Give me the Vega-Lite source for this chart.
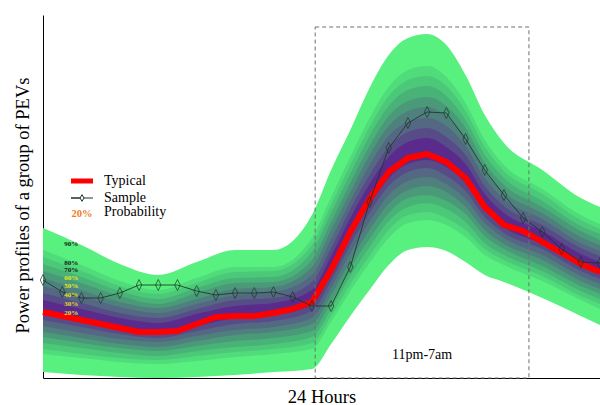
{
"$schema": "https://vega.github.io/schema/vega-lite/v6.json",
"width": 557, "height": 363,
"autosize": {"type": "none"},
"padding": {"left": 43, "top": 15, "right": 0, "bottom": 27},
"background": "white",
"config": {"view": {"stroke": null}, "font": "Liberation Serif"},
"datasets": {
"bands": [
{"b":9,"i":0,"lo":6,"hi":150},{"b":9,"i":2,"lo":3,"hi":133},{"b":9,"i":4,"lo":1,"hi":114},{"b":9,"i":6,"lo":0,"hi":103},{"b":9,"i":8,"lo":1,"hi":116},{"b":9,"i":10,"lo":3,"hi":128},{"b":9,"i":12,"lo":6,"hi":128},{"b":9,"i":14,"lo":9,"hi":163},{"b":9,"i":15,"lo":34,"hi":208},{"b":9,"i":16,"lo":62,"hi":248},{"b":9,"i":17,"lo":88,"hi":290},{"b":9,"i":18,"lo":113,"hi":323},{"b":9,"i":19,"lo":128,"hi":340},{"b":9,"i":20,"lo":131,"hi":344},{"b":9,"i":21,"lo":127,"hi":333},{"b":9,"i":22,"lo":116,"hi":303},{"b":9,"i":23,"lo":103,"hi":263},{"b":9,"i":24,"lo":96,"hi":235},{"b":9,"i":26,"lo":80,"hi":208},{"b":9,"i":28,"lo":62,"hi":180},{"b":9,"i":29,"lo":53,"hi":171},
{"b":8,"i":0,"lo":24,"hi":128},{"b":8,"i":2,"lo":20,"hi":113},{"b":8,"i":4,"lo":16,"hi":97},{"b":8,"i":6,"lo":14,"hi":88},{"b":8,"i":8,"lo":17,"hi":100},{"b":8,"i":10,"lo":21,"hi":111},{"b":8,"i":12,"lo":24,"hi":111},{"b":8,"i":14,"lo":29,"hi":140},{"b":8,"i":15,"lo":56,"hi":181},{"b":8,"i":16,"lo":87,"hi":221},{"b":8,"i":17,"lo":115,"hi":260},{"b":8,"i":18,"lo":140,"hi":291},{"b":8,"i":19,"lo":155,"hi":308},{"b":8,"i":20,"lo":158,"hi":312},{"b":8,"i":21,"lo":153,"hi":301},{"b":8,"i":22,"lo":141,"hi":275},{"b":8,"i":23,"lo":123,"hi":238},{"b":8,"i":24,"lo":113,"hi":213},{"b":8,"i":26,"lo":97,"hi":189},{"b":8,"i":28,"lo":78,"hi":163},{"b":8,"i":29,"lo":69,"hi":154},
{"b":7,"i":0,"lo":29,"hi":121},{"b":7,"i":2,"lo":24,"hi":107},{"b":7,"i":4,"lo":20,"hi":92},{"b":7,"i":6,"lo":18,"hi":84},{"b":7,"i":8,"lo":22,"hi":95},{"b":7,"i":10,"lo":26,"hi":106},{"b":7,"i":12,"lo":29,"hi":107},{"b":7,"i":14,"lo":35,"hi":133},{"b":7,"i":15,"lo":62,"hi":173},{"b":7,"i":16,"lo":94,"hi":213},{"b":7,"i":17,"lo":122,"hi":251},{"b":7,"i":18,"lo":148,"hi":282},{"b":7,"i":19,"lo":163,"hi":298},{"b":7,"i":20,"lo":166,"hi":302},{"b":7,"i":21,"lo":160,"hi":292},{"b":7,"i":22,"lo":148,"hi":267},{"b":7,"i":23,"lo":129,"hi":231},{"b":7,"i":24,"lo":118,"hi":207},{"b":7,"i":26,"lo":102,"hi":184},{"b":7,"i":28,"lo":82,"hi":158},{"b":7,"i":29,"lo":74,"hi":149},
{"b":6,"i":0,"lo":35,"hi":114},{"b":6,"i":2,"lo":30,"hi":101},{"b":6,"i":4,"lo":25,"hi":87},{"b":6,"i":6,"lo":22,"hi":79},{"b":6,"i":8,"lo":27,"hi":90},{"b":6,"i":10,"lo":31,"hi":100},{"b":6,"i":12,"lo":34,"hi":101},{"b":6,"i":14,"lo":41,"hi":126},{"b":6,"i":15,"lo":69,"hi":165},{"b":6,"i":16,"lo":102,"hi":204},{"b":6,"i":17,"lo":131,"hi":242},{"b":6,"i":18,"lo":157,"hi":272},{"b":6,"i":19,"lo":171,"hi":288},{"b":6,"i":20,"lo":175,"hi":292},{"b":6,"i":21,"lo":169,"hi":282},{"b":6,"i":22,"lo":156,"hi":258},{"b":6,"i":23,"lo":135,"hi":223},{"b":6,"i":24,"lo":123,"hi":200},{"b":6,"i":26,"lo":107,"hi":177},{"b":6,"i":28,"lo":87,"hi":152},{"b":6,"i":29,"lo":79,"hi":144},
{"b":5,"i":0,"lo":41,"hi":107},{"b":5,"i":2,"lo":35,"hi":95},{"b":5,"i":4,"lo":30,"hi":82},{"b":5,"i":6,"lo":27,"hi":74},{"b":5,"i":8,"lo":32,"hi":85},{"b":5,"i":10,"lo":37,"hi":95},{"b":5,"i":12,"lo":40,"hi":96},{"b":5,"i":14,"lo":47,"hi":118},{"b":5,"i":15,"lo":76,"hi":156},{"b":5,"i":16,"lo":110,"hi":195},{"b":5,"i":17,"lo":139,"hi":232},{"b":5,"i":18,"lo":165,"hi":262},{"b":5,"i":19,"lo":180,"hi":277},{"b":5,"i":20,"lo":183,"hi":281},{"b":5,"i":21,"lo":177,"hi":272},{"b":5,"i":22,"lo":164,"hi":250},{"b":5,"i":23,"lo":142,"hi":215},{"b":5,"i":24,"lo":129,"hi":193},{"b":5,"i":26,"lo":112,"hi":171},{"b":5,"i":28,"lo":92,"hi":147},{"b":5,"i":29,"lo":84,"hi":138},
{"b":4,"i":0,"lo":46,"hi":100},{"b":4,"i":2,"lo":40,"hi":88},{"b":4,"i":4,"lo":34,"hi":76},{"b":4,"i":6,"lo":31,"hi":70},{"b":4,"i":8,"lo":37,"hi":79},{"b":4,"i":10,"lo":43,"hi":89},{"b":4,"i":12,"lo":46,"hi":91},{"b":4,"i":14,"lo":54,"hi":111},{"b":4,"i":15,"lo":83,"hi":148},{"b":4,"i":16,"lo":117,"hi":186},{"b":4,"i":17,"lo":148,"hi":223},{"b":4,"i":18,"lo":174,"hi":252},{"b":4,"i":19,"lo":188,"hi":267},{"b":4,"i":20,"lo":192,"hi":271},{"b":4,"i":21,"lo":186,"hi":262},{"b":4,"i":22,"lo":171,"hi":241},{"b":4,"i":23,"lo":148,"hi":208},{"b":4,"i":24,"lo":134,"hi":186},{"b":4,"i":26,"lo":118,"hi":165},{"b":4,"i":28,"lo":97,"hi":141},{"b":4,"i":29,"lo":89,"hi":133},
{"b":3,"i":0,"lo":52,"hi":92},{"b":3,"i":2,"lo":45,"hi":82},{"b":3,"i":4,"lo":39,"hi":71},{"b":3,"i":6,"lo":36,"hi":65},{"b":3,"i":8,"lo":42,"hi":74},{"b":3,"i":10,"lo":48,"hi":83},{"b":3,"i":12,"lo":51,"hi":86},{"b":3,"i":14,"lo":60,"hi":103},{"b":3,"i":15,"lo":90,"hi":139},{"b":3,"i":16,"lo":125,"hi":177},{"b":3,"i":17,"lo":156,"hi":213},{"b":3,"i":18,"lo":183,"hi":242},{"b":3,"i":19,"lo":197,"hi":256},{"b":3,"i":20,"lo":201,"hi":260},{"b":3,"i":21,"lo":194,"hi":252},{"b":3,"i":22,"lo":179,"hi":232},{"b":3,"i":23,"lo":155,"hi":200},{"b":3,"i":24,"lo":140,"hi":179},{"b":3,"i":26,"lo":123,"hi":159},{"b":3,"i":28,"lo":102,"hi":135},{"b":3,"i":29,"lo":94,"hi":127},
{"b":2,"i":0,"lo":58,"hi":85},{"b":2,"i":2,"lo":51,"hi":75},{"b":2,"i":4,"lo":44,"hi":65},{"b":2,"i":6,"lo":40,"hi":60},{"b":2,"i":8,"lo":47,"hi":69},{"b":2,"i":10,"lo":54,"hi":78},{"b":2,"i":12,"lo":57,"hi":80},{"b":2,"i":14,"lo":67,"hi":96},{"b":2,"i":15,"lo":97,"hi":130},{"b":2,"i":16,"lo":133,"hi":169},{"b":2,"i":17,"lo":165,"hi":203},{"b":2,"i":18,"lo":192,"hi":231},{"b":2,"i":19,"lo":206,"hi":246},{"b":2,"i":20,"lo":210,"hi":250},{"b":2,"i":21,"lo":202,"hi":241},{"b":2,"i":22,"lo":187,"hi":223},{"b":2,"i":23,"lo":161,"hi":192},{"b":2,"i":24,"lo":145,"hi":172},{"b":2,"i":26,"lo":129,"hi":153},{"b":2,"i":28,"lo":107,"hi":130},{"b":2,"i":29,"lo":99,"hi":122},
{"b":1,"i":0,"lo":64,"hi":78},{"b":1,"i":2,"lo":56,"hi":69},{"b":1,"i":4,"lo":49,"hi":60},{"b":1,"i":6,"lo":45,"hi":55},{"b":1,"i":8,"lo":52,"hi":64},{"b":1,"i":10,"lo":60,"hi":72},{"b":1,"i":12,"lo":63,"hi":75},{"b":1,"i":14,"lo":73,"hi":88},{"b":1,"i":15,"lo":104,"hi":122},{"b":1,"i":16,"lo":141,"hi":160},{"b":1,"i":17,"lo":173,"hi":194},{"b":1,"i":18,"lo":200,"hi":221},{"b":1,"i":19,"lo":214,"hi":236},{"b":1,"i":20,"lo":218,"hi":240},{"b":1,"i":21,"lo":211,"hi":231},{"b":1,"i":22,"lo":195,"hi":214},{"b":1,"i":23,"lo":168,"hi":184},{"b":1,"i":24,"lo":151,"hi":165},{"b":1,"i":26,"lo":134,"hi":147},{"b":1,"i":28,"lo":112,"hi":124},{"b":1,"i":29,"lo":104,"hi":116}
],
"typical": [
{"i":0,"v":66},{"i":1,"v":62},{"i":2,"v":58},{"i":3,"v":54},{"i":4,"v":50},{"i":5,"v":46},{"i":6,"v":46},{"i":7,"v":47},{"i":8,"v":54},{"i":9,"v":61},{"i":10,"v":62},{"i":11,"v":62},{"i":12,"v":65},{"i":13,"v":69},{"i":14,"v":76},{"i":15,"v":108},{"i":16,"v":146},{"i":17,"v":179},{"i":18,"v":206},{"i":19,"v":220},{"i":20,"v":224},{"i":21,"v":216},{"i":22,"v":200},{"i":23,"v":171},{"i":24,"v":153},{"i":25,"v":147},{"i":26,"v":136},{"i":27,"v":125},{"i":28,"v":114},{"i":29,"v":106}
],
"sample": [
{"i":0,"v":98},{"i":1,"v":86},{"i":2,"v":80},{"i":3,"v":80},{"i":4,"v":85},{"i":5,"v":93},{"i":6,"v":93},{"i":7,"v":93},{"i":8,"v":87},{"i":9,"v":83},{"i":10,"v":85},{"i":11,"v":85},{"i":12,"v":86},{"i":13,"v":81},{"i":14,"v":72},{"i":15,"v":72},{"i":16,"v":111},{"i":17,"v":176},{"i":18,"v":230},{"i":19,"v":255},{"i":20,"v":266},{"i":21,"v":265},{"i":22,"v":239},{"i":23,"v":208},{"i":24,"v":183},{"i":25,"v":160},{"i":26,"v":146},{"i":27,"v":129},{"i":28,"v":116},{"i":29,"v":115}
],
"pct": [
{"lab":"90%","i":1.1,"v":134},{"lab":"80%","i":1.1,"v":115},{"lab":"70%","i":1.1,"v":108},{"lab":"60%","i":1.1,"v":100},{"lab":"50%","i":1.1,"v":92},{"lab":"40%","i":1.1,"v":83},{"lab":"30%","i":1.1,"v":74},{"lab":"20%","i":1.1,"v":65}
]
},
"layer": [
{
"data": {"name": "bands"},
"mark": {"type": "area", "interpolate": "monotone"},
"encoding": {
"x": {"field": "i", "type": "quantitative", "scale": {"domain": [0, 29], "nice": false, "zero": false},
"axis": {"title": "24 Hours", "labels": false, "ticks": false, "grid": false, "domainColor": "black", "domainWidth": 1, "titleFont": "Liberation Serif", "titleFontSize": 18.5, "titleFontWeight": "normal", "titleColor": "black", "titlePadding": 9}},
"y": {"field": "lo", "type": "quantitative", "scale": {"domain": [0, 363], "nice": false, "zero": false},
"axis": {"title": "Power profiles of a group of PEVs", "labels": false, "ticks": false, "grid": false, "domainColor": "black", "domainWidth": 1, "titleFont": "Liberation Serif", "titleFontSize": 18.5, "titleFontWeight": "normal", "titleColor": "black", "titlePadding": 11, "titleY": 190}},
"y2": {"field": "hi"},
"fill": {"field": "b", "type": "nominal", "scale": {"domain": [9, 8, 7, 6, 5, 4, 3, 2, 1], "range": ["#58f07f", "#50dc7b", "#4bc878", "#48b277", "#4a9a7a", "#4f807e", "#546883", "#584c88", "#5a2a8c"]}, "legend": null}
}
},
{
"data": {"name": "typical"},
"mark": {"type": "line", "strokeWidth": 6, "strokeJoin": "round"},
"encoding": {
"x": {"field": "i", "type": "quantitative"},
"y": {"field": "v", "type": "quantitative"},
"stroke": {"datum": "Typical", "type": "nominal",
"scale": {"domain": ["Typical", "Sample", "Probability"], "range": ["#ff0000", "#1d3524", "#000000"]},
"legend": {"orient": "none", "legendX": 32, "legendY": 159, "title": null, "symbolSize": 121, "labelFont": "Liberation Serif", "labelFontSize": 14, "labelColor": "black", "labelOffset": 15, "rowPadding": 0, "padding": 0, "symbolType": "M-2,0H2",
"encode": {"symbols": {"update": {
"shape": {"signal": "datum.value === 'Sample' ? 'M-2,0H-0.35L0,-0.6L0.35,0L0,0.6L-0.35,0ZM0.35,0H2' : 'M-2,0H2'"},
"strokeWidth": {"signal": "datum.value === 'Typical' ? 5 : 1"},
"opacity": {"signal": "datum.value === 'Probability' ? 0 : 1"},
"fill": {"value": "transparent"}}}}}
}
}
},
{
"data": {"name": "sample"},
"mark": {"type": "line", "strokeWidth": 1, "opacity": 0.85},
"encoding": {
"x": {"field": "i", "type": "quantitative"},
"y": {"field": "v", "type": "quantitative"},
"stroke": {"datum": "Sample", "type": "nominal"}
}
},
{
"data": {"name": "sample"},
"mark": {"type": "point", "shape": "M0,-1L0.5,0L0,1L-0.5,0Z", "size": 121, "filled": false, "strokeWidth": 0.8, "opacity": 0.85},
"encoding": {
"x": {"field": "i", "type": "quantitative"},
"y": {"field": "v", "type": "quantitative"},
"stroke": {"datum": "Sample", "type": "nominal"}
}
},
{
"data": {"name": "pct"},
"mark": {"type": "text", "align": "left", "baseline": "middle", "fontSize": 7, "fontWeight": "bold", "font": "Liberation Serif"},
"encoding": {
"x": {"field": "i", "type": "quantitative"},
"y": {"field": "v", "type": "quantitative"},
"text": {"field": "lab"},
"color": {"field": "lab", "type": "nominal", "scale": {"domain": ["90%", "80%", "70%", "60%", "50%", "40%", "30%", "20%"], "range": ["#1a1a1a", "#1a1a1a", "#1a1a1a", "#e8e41e", "#e8e41e", "#e8e41e", "#e8d81e", "#e8e41e"]}, "legend": null}
}
},
{
"data": {"values": [{}]},
"mark": {"type": "rect", "fill": null, "stroke": "#707070", "strokeDash": [4, 3], "strokeWidth": 1},
"encoding": {
"x": {"datum": 14.17, "type": "quantitative"},
"x2": {"datum": 25.3},
"y": {"datum": 0, "type": "quantitative"},
"y2": {"datum": 351}
}
},
{
"data": {"values": [{}]},
"mark": {"type": "text", "font": "Liberation Serif", "fontSize": 14, "color": "black", "baseline": "middle"},
"encoding": {
"x": {"datum": 19.74, "type": "quantitative"},
"y": {"datum": 23, "type": "quantitative"},
"text": {"value": "11pm-7am"}
}
},
{
"data": {"values": [{}]},
"mark": {"type": "text", "font": "Liberation Serif", "fontSize": 10.5, "fontWeight": "bold", "color": "#f07a2a", "baseline": "middle"},
"encoding": {
"x": {"datum": 2.03, "type": "quantitative"},
"y": {"datum": 164, "type": "quantitative"},
"text": {"value": "20%"}
}
}
]
}
